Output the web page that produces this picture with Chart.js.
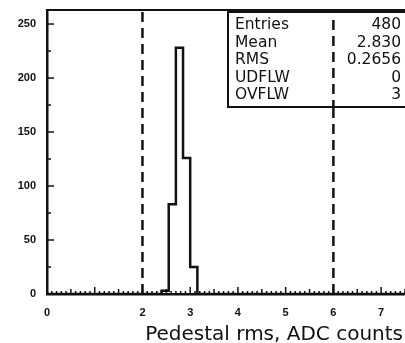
<!DOCTYPE html>
<html lang="en">
<head>
  <meta charset="UTF-8" />
  <title>pedestal rms</title>
  <script src="https://cdn.jsdelivr.net/npm/chart.js"></script>
</head>
<style>
  body {
    margin: 0;
    background: #fff;
    overflow: hidden;
  }
  .graphe {
    width: 405px;
    height: 343px;
  }
</style>
<body>
  <div class="graphe">
    <canvas id="histo" width="405" height="343"></canvas>
  </div>

  <script>
    // histogram (bin left edges + last right edge, counts)
    const binEdges = [2.40, 2.55, 2.70, 2.85, 3.00, 3.15];
    const binCounts = [3, 83, 228, 126, 25];
    const cutLines = [2, 6];
    const xTickValues = [0, 2, 3, 4, 5, 6, 7];
    const yTickValues = [0, 50, 100, 150, 200, 250];
    const statNames = ['Entries', 'Mean', 'RMS', 'UDFLW', 'OVFLW'];
    const statValues = ['480', '2.830', '0.2656', '0', '3'];
    const xTitle = 'Pedestal rms, ADC counts';

    const X_MAX = 7.5;
    const Y_MAX = 263;

    // build step points
    const histPoints = [{ x: 0, y: 0 }];
    for (let i = 0; i < binCounts.length; i++) {
      histPoints.push({ x: binEdges[i], y: binCounts[i] });
    }
    histPoints.push({ x: binEdges[binEdges.length - 1], y: 0 });
    histPoints.push({ x: X_MAX, y: 0 });

    const cutSets = cutLines.map(c => ({
      data: [{ x: c, y: 0 }, { x: c, y: Y_MAX }],
      borderColor: '#111',
      borderWidth: 2.5,
      borderDash: [10, 6],
      pointRadius: 0
    }));

    const decor = {
      id: 'decor',
      afterDraw(chart) {
        const ctx = chart.ctx;
        const a = chart.chartArea;
        const xs = chart.scales.x, ys = chart.scales.y;
        ctx.save();
        ctx.strokeStyle = '#111';
        ctx.lineWidth = 2;
        // top frame
        ctx.beginPath();
        ctx.moveTo(a.left, a.top);
        ctx.lineTo(a.right, a.top);
        ctx.stroke();

        // inward ticks
        ctx.lineWidth = 1.5;
        for (let i = 0; i <= 75; i++) {
          const v = i / 10;
          const px = xs.getPixelForValue(v);
          const len = (i % 10 === 0) ? 7 : (i % 5 === 0 ? 5 : 3);
          ctx.beginPath();
          ctx.moveTo(px, a.bottom);
          ctx.lineTo(px, a.bottom - len);
          ctx.stroke();
        }
        for (let v = 25; v < Y_MAX; v += 25) {
          const py = ys.getPixelForValue(v);
          const len = (v % 50 === 0) ? 7 : 4;
          ctx.beginPath();
          ctx.moveTo(a.left, py);
          ctx.lineTo(a.left + len, py);
          ctx.stroke();
        }

        // stats box
        const bx = 228, by = a.top + 2, bw = 185, bh = 95;
        ctx.fillStyle = '#fff';
        ctx.fillRect(bx, by, bw, bh);
        ctx.lineWidth = 2;
        ctx.strokeRect(bx, by, bw, bh);
        // dashed line continues through box
        const cx = xs.getPixelForValue(cutLines[1]);
        ctx.lineWidth = 2.5;
        ctx.setLineDash([10, 6]);
        ctx.beginPath();
        ctx.moveTo(cx, by + 8);
        ctx.lineTo(cx, by + bh);
        ctx.stroke();
        ctx.setLineDash([]);

        ctx.fillStyle = '#111';
        ctx.font = '15.5px "DejaVu Sans"';
        ctx.textBaseline = 'middle';
        statNames.forEach((n, i) => {
          const ty = 25 + i * 17.6;
          ctx.textAlign = 'left';
          ctx.fillText(n, 235, ty);
          ctx.textAlign = 'right';
          ctx.fillText(statValues[i], 401, ty);
        });

        // axis title
        ctx.font = '20px "DejaVu Sans"';
        ctx.textAlign = 'right';
        ctx.textBaseline = 'alphabetic';
        ctx.fillText(xTitle, 403, 340);
        ctx.restore();
      }
    };

    new Chart(document.getElementById('histo'), {
      type: 'line',
      data: {
        datasets: [{
          data: histPoints,
          borderColor: '#111',
          borderWidth: 2.5,
          stepped: true,
          pointRadius: 0
        }, ...cutSets]
      },
      options: {
        responsive: false,
        animation: false,
        layout: { padding: { top: 10, right: 0, left: 0, bottom: 0 } },
        plugins: { legend: { display: false }, tooltip: { enabled: false } },
        scales: {
          x: {
            type: 'linear',
            min: 0,
            max: X_MAX,
            afterFit: s => { s.height = 49; s.paddingLeft = 0; s.paddingRight = 0; },
            afterBuildTicks: s => { s.ticks = xTickValues.map(v => ({ value: v })); },
            grid: { display: false, drawTicks: false },
            border: { display: true, color: '#111', width: 2.5 },
            ticks: {
              padding: 12,
              color: '#111',
              font: { family: 'Liberation Sans', size: 11, weight: 'bold' }
            }
          },
          y: {
            min: 0,
            max: Y_MAX,
            afterFit: s => { s.width = 47; s.paddingTop = 0; s.paddingBottom = 0; },
            afterBuildTicks: s => { s.ticks = yTickValues.map(v => ({ value: v })); },
            grid: { display: false, drawTicks: false },
            border: { display: true, color: '#111', width: 2.5 },
            ticks: {
              padding: 11,
              color: '#111',
              font: { family: 'Liberation Sans', size: 11, weight: 'bold' }
            }
          }
        }
      },
      plugins: [decor]
    });
  </script>
</body>
</html>
